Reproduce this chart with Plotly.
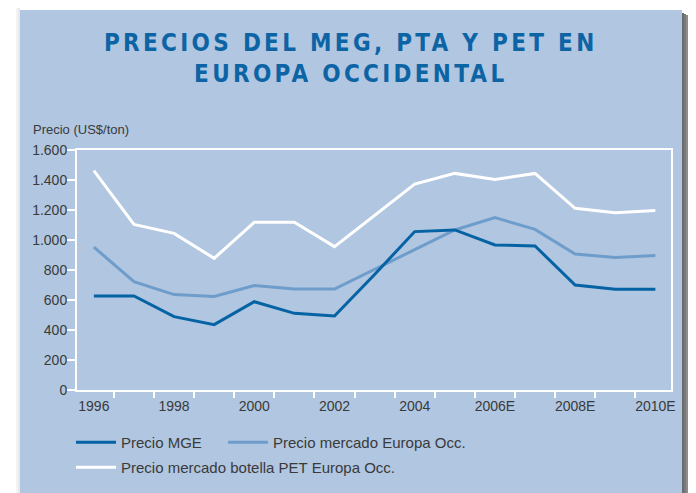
import plotly.graph_objects as go

# ── Data (US$/ton) ────────────────────────────────────────────────────────
years = list(range(1996, 2011))
precio_mge = [627, 627, 489, 436, 589, 511, 493, 770, 1056, 1067, 967, 960, 700, 671, 671]
precio_europa = [953, 722, 636, 624, 696, 673, 673, 805, 935, 1067, 1149, 1071, 907, 884, 896]
precio_pet = [1462, 1104, 1044, 878, 1118, 1118, 956, 1165, 1373, 1444, 1404, 1444, 1211, 1182, 1196]

x_tick_years = [1996, 1998, 2000, 2002, 2004, 2006, 2008, 2010]
x_tick_text = ["1996", "1998", "2000", "2002", "2004", "2006E", "2008E", "2010E"]
y_tick_vals = [0, 200, 400, 600, 800, 1000, 1200, 1400, 1600]
y_tick_text = ["0", "200", "400", "600", "800", "1.000", "1.200", "1.400", "1.600"]

# ── Palette ───────────────────────────────────────────────────────────────
_PANEL = "#b0c6e1"
_DARK = "#0563a4"
_MID = "#6f9dcb"
_WHITE = "#ffffff"
_TEXT = "#3a3a3a"
_TITLE = "#0d64a5"
_FONT = "Liberation Sans, Arial, sans-serif"

# ── Geometry ──────────────────────────────────────────────────────────────
# page body adds an 8px offset, so the figure is 8px smaller and every
# screen position below is given in page pixels and shifted back by OFF
OFF = 8
W, H = 696 - OFF, 493 - OFF
L, R, T, B = 77 - OFF, 25, 150 - OFF, 103
PW, PH = W - L - R, H - T - B


def px_x(px):
    return (px - OFF - L) / PW


def px_y(py):
    return 1 - (py - OFF - T) / PH


fig = go.Figure()

fig.add_trace(go.Scatter(
    x=years, y=precio_europa, mode="lines", name="Precio mercado Europa Occ.",
    line=dict(color=_MID, width=3), legend="legend2",
))
fig.add_trace(go.Scatter(
    x=years, y=precio_mge, mode="lines", name="Precio MGE",
    line=dict(color=_DARK, width=3), legend="legend",
))
fig.add_trace(go.Scatter(
    x=years, y=precio_pet, mode="lines", name="Precio mercado botella PET Europa Occ.",
    line=dict(color=_WHITE, width=3), legend="legend3",
))

# ── Panel + drop shadow ──────────────────────────────────────────────────
shapes = []
shadow = ["#6c6c6c", "#7a7a7a", "#8c8c8c", "#a2a2a2", "#bababa", "#d2d2d2", "#e8e8e8"]
for i, c in enumerate(shadow):
    shapes.append(dict(
        type="rect", xref="paper", yref="paper", layer="below",
        x0=px_x(682 + 2 * i), x1=px_x(684 + 2 * i), y0=px_y(13 + i), y1=px_y(500),
        fillcolor=c, line_width=0,
    ))
for i, c in enumerate(["#f4f4f4", "#e9e9e9"]):
    shapes.append(dict(
        type="rect", xref="paper", yref="paper", layer="below",
        x0=px_x(16 + 2 * i), x1=px_x(20), y0=px_y(6 + 2 * i), y1=px_y(500),
        fillcolor=c, line_width=0,
    ))
shapes.append(dict(
    type="rect", xref="paper", yref="paper", layer="below",
    x0=px_x(20), x1=px_x(682), y0=px_y(10), y1=px_y(500),
    fillcolor=_PANEL, line_width=0,
))

axis_common = dict(
    showline=True, linecolor=_WHITE, linewidth=2, mirror=True,
    showgrid=False, zeroline=False,
    tickfont=dict(size=14, color=_TEXT, family=_FONT),
)

legend_common = dict(
    orientation="h", xanchor="left", yanchor="top", visible=True,
    itemwidth=40, bgcolor="rgba(0,0,0,0)",
    font=dict(size=15, color=_TEXT, family=_FONT),
)

fig.update_layout(
    width=W, height=H,
    margin=dict(l=L, r=R, t=T, b=B, autoexpand=False),
    paper_bgcolor="#ffffff",
    plot_bgcolor=_PANEL,
    font=dict(family=_FONT, color=_TEXT),
    showlegend=True,
    shapes=shapes,
    xaxis=dict(
        **axis_common,
        range=[1995.58, 2010.39],
        tickmode="array", tickvals=x_tick_years, ticktext=x_tick_text,
        ticks="", ticklabelstandoff=2,
        minor=dict(
            tickmode="array", tickvals=[y + 0.5 for y in years[:-1]],
            ticks="outside", ticklen=6, tickwidth=2, tickcolor=_WHITE,
        ),
    ),
    yaxis=dict(
        **axis_common,
        range=[0, 1600],
        tickmode="array", tickvals=y_tick_vals, ticktext=y_tick_text,
        ticks="outside", ticklen=9, tickwidth=2, tickcolor=_WHITE,
        ticklabelstandoff=-4,
    ),
    legend=dict(**legend_common, x=px_x(71), y=px_y(426)),
    legend2=dict(**legend_common, x=px_x(223), y=px_y(426)),
    legend3=dict(**legend_common, x=px_x(71), y=px_y(451)),
    annotations=[
        dict(
            text=("<span style='letter-spacing:3.3px'>PRECIOS DEL MEG, PTA Y PET EN"
                  "<br>EUROPA OCCIDENTAL</span>"),
            xref="paper", yref="paper", x=px_x(351), y=px_y(58.5),
            xanchor="center", yanchor="middle", showarrow=False,
            font=dict(size=24, color=_TITLE,
                      family="Liberation Sans Narrow, DejaVu Sans Condensed, sans-serif",
                      weight="bold"),
        ),
        dict(
            text="Precio (US$/ton)", xref="paper", yref="paper",
            x=px_x(31), y=px_y(129), xanchor="left", yanchor="middle",
            showarrow=False, font=dict(size=13, color=_TEXT, family=_FONT),
        ),
    ],
)

fig.write_html("out.html")
